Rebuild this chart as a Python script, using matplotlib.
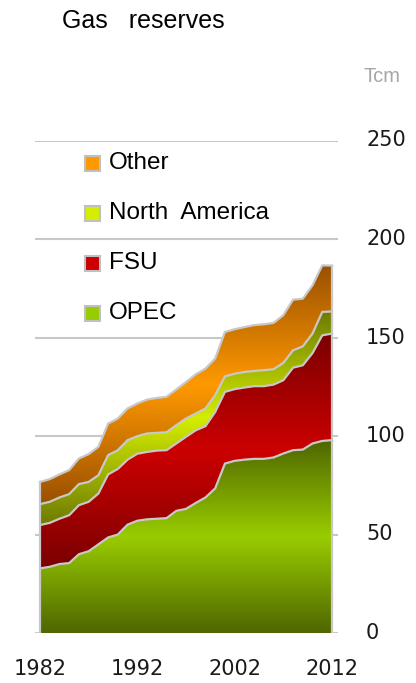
import numpy as np
import matplotlib
matplotlib.use('Agg')
import matplotlib.pyplot as plt
import matplotlib.transforms as mtransforms
from matplotlib.colors import LinearSegmentedColormap
from matplotlib.patches import Rectangle

years = np.arange(1982, 2013)

# reserves by region, Tcm
opec = [32.8, 33.6, 35.0, 35.5, 40.0, 41.5, 45.0, 48.5, 50.0, 55.0, 57.0,
        57.7, 58.0, 58.3, 62.0, 63.0, 66.0, 68.8, 73.4, 86.0, 87.4,
        88.0, 88.4, 88.4, 89.1, 91.1, 92.8, 93.1, 96.2, 97.5, 97.9]
fsu = [22.0, 22.3, 23.0, 24.3, 24.9, 25.1, 25.8, 32.0, 33.3, 33.0, 34.0,
       34.2, 34.6, 34.5, 34.2, 36.6, 36.9, 36.2, 38.8, 36.4, 36.4,
       36.6, 36.9, 36.9, 37.0, 37.2, 41.9, 42.8, 45.9, 53.6, 54.1]
north_america = [10.6, 10.7, 10.8, 10.7, 10.7, 10.1, 9.3, 9.8, 9.5, 9.9, 8.9,
                 9.4, 9.0, 9.1, 9.3, 9.3, 8.5, 9.0, 8.5, 7.9, 7.8,
                 7.9, 7.7, 8.1, 7.8, 8.8, 8.8, 9.6, 9.9, 11.9, 11.2]
other = [11.3, 11.5, 11.7, 12.2, 13.0, 14.1, 14.4, 16.0, 16.1, 16.1, 16.6,
         17.2, 17.7, 18.0, 18.1, 18.5, 19.9, 20.2, 18.6, 22.5, 22.6,
         22.8, 23.3, 23.3, 23.5, 24.2, 25.7, 24.2, 24.5, 23.6, 23.3]

labels = ['OPEC', 'FSU', 'North  America', 'Other']
series = [opec, fsu, north_america, other]
yticks = [0, 50, 100, 150, 200, 250]
xticks = [1982, 1992, 2002, 2012]
# (dark, bright) gradient colours per band
colors = [('#4f6600', '#99cc00'),
          ('#7a0000', '#cc0000'),
          ('#6e7a00', '#d4ee00'),
          ('#9a5000', '#ff9900')]

EDGE = '#c8c8c8'
W, H = 416, 683


def px(x, y):
    return x / W, 1 - y / H


fig = plt.figure(figsize=(W / 100, H / 100), dpi=100)
ax = fig.add_axes([35 / W, 50 / H, 303 / W, 492.5 / H])

cum = np.zeros(len(years))
tops = []
for vals, (dark, bright) in zip(series, colors):
    lo = cum.copy()
    hi = cum + np.array(vals)
    poly = ax.fill_between(years, lo, hi, facecolor='none', edgecolor='none')
    cmap = LinearSegmentedColormap.from_list('band', [dark, bright, dark])
    grad = np.linspace(0, 1, 256).reshape(-1, 1)
    im = ax.imshow(grad, extent=[years[0], years[-1], lo.min(), hi.max()],
                   origin='lower', aspect='auto', cmap=cmap, zorder=2,
                   interpolation='bilinear')
    im.set_clip_path(poly.get_paths()[0], transform=ax.transData)
    tops.append(hi)
    cum = hi

for t in tops:
    ax.plot(years, t, color=EDGE, lw=1.6, zorder=3, solid_joinstyle='round')
ax.plot([years[0], years[0]], [0, tops[-1][0]], color=EDGE, lw=1.6, zorder=3)
ax.plot([years[-1], years[-1]], [0, tops[-1][-1]], color=EDGE, lw=1.6, zorder=3)

ax.set_xlim(1982 - 5 / 9.733, 2012 + 6 / 9.733)
ax.set_ylim(0, 250)
ax.set_yticks(yticks)
ax.set_yticklabels([])
ax.set_xticks(xticks)
ax.grid(axis='y', color=EDGE, lw=1.5, zorder=0)
ax.set_axisbelow(True)
for s in ax.spines.values():
    s.set_visible(False)
ax.tick_params(axis='y', length=0)
ax.tick_params(axis='x', length=0, pad=19, labelsize=15, labelcolor='#1a1a1a')

# y labels, left aligned to the right of the plot
trans = mtransforms.blended_transform_factory(ax.transAxes, ax.transData)
for v in yticks:
    ax.text(1 + 28 / 303, v, str(v), transform=trans, ha='left', va='center',
            fontsize=15, color='#1a1a1a', clip_on=False)

fig.text(*px(62, 21), 'Gas   reserves', fontsize=18, family='Liberation Sans',
         va='center', ha='left')
fig.text(*px(363, 76), 'Tcm', fontsize=14.5, family='Liberation Sans',
         color='#a6a6a6', va='center', ha='left')

# legend, top to bottom
for i, (lab, (dark, bright)) in enumerate(zip(labels[::-1], colors[::-1])):
    yc = 163 + 50 * i
    x0, y0 = px(85, yc + 7.5)
    fig.patches.append(Rectangle((x0, y0), 15 / W, 15 / H, transform=fig.transFigure,
                                 facecolor=bright, edgecolor='#c0c0c0', lw=1.5))
    fig.text(*px(109, yc), lab, fontsize=17.5, family='Liberation Sans',
             va='center', ha='left')

fig.savefig('out.png', dpi=100)
